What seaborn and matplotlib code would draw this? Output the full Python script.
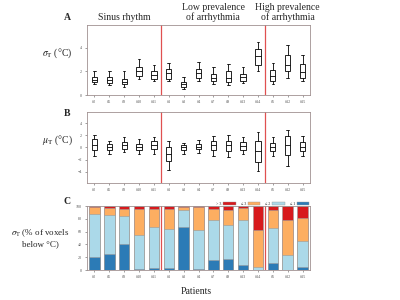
import numpy as np
import pandas as pd
import matplotlib
matplotlib.use("Agg")
import matplotlib.pyplot as plt
import seaborn as sns
from matplotlib.patches import Patch

# Patients, grouped by rhythm
patients = ["#2", "#5", "#8", "#10", "#11",
            "#1", "#3", "#4", "#7", "#9", "#13", "#14",
            "#6", "#12", "#15"]
group_titles = ["Sinus rhythm", "Low prevalence\nof arrhythmia", "High prevalence\nof arrhythmia"]

# Panel A: sigma_T box stats (whisker low, Q1, median, Q3, whisker high)
sig_low = [0.95, 0.85, 0.7, 1.35, 1.15, 1.15, 0.55, 1.2, 0.9, 0.85, 1.05, 2.0, 0.95, 1.4, 1.15]
sig_q1 = [1.1, 1.0, 0.9, 1.6, 1.35, 1.35, 0.7, 1.4, 1.15, 1.1, 1.2, 2.5, 1.15, 2.0, 1.4]
sig_med = [1.3, 1.25, 1.1, 2.0, 1.7, 1.85, 0.9, 1.85, 1.4, 1.4, 1.5, 3.3, 1.6, 2.5, 1.9]
sig_q3 = [1.5, 1.5, 1.35, 2.35, 2.0, 2.2, 1.1, 2.2, 1.8, 2.0, 1.8, 3.9, 2.1, 3.4, 2.6]
sig_high = [2.0, 2.05, 2.0, 3.05, 2.55, 2.7, 1.55, 2.8, 2.35, 2.65, 2.35, 4.5, 2.7, 4.2, 3.4]

# Panel B: mu_T box stats
mu_low = [-1.4, -1.05, -0.7, -1.1, -1.1, -3.7, -1.05, -1.0, -1.35, -1.65, -1.05, -3.85, -1.5, -3.0, -1.4]
mu_q1 = [-0.4, -0.4, -0.2, -0.45, -0.2, -2.2, -0.4, -0.3, -0.4, -0.65, -0.4, -2.35, -0.55, -1.2, -0.55]
mu_med = [0.45, 0.05, 0.35, 0.1, 0.35, -1.1, 0.0, 0.1, 0.35, 0.35, 0.2, -0.55, 0.15, 0.45, 0.15]
mu_q3 = [1.4, 0.55, 0.85, 0.6, 1.0, 0.05, 0.35, 0.55, 1.0, 1.1, 0.9, 1.1, 0.7, 1.85, 0.9]
mu_high = [2.0, 1.15, 1.7, 1.35, 1.7, 1.15, 0.7, 1.2, 1.85, 2.0, 1.7, 2.5, 1.7, 2.95, 1.85]

# Panel C: % of voxels per sigma_T class
pct_le1 = [20, 25, 41, 1, 3, 3, 68, 1, 16, 17, 8, 0, 11, 0, 4]
pct_le2 = [68, 61, 44, 53, 65, 61, 26, 61, 63, 53, 71, 5, 55, 23, 41]
pct_le3 = [11, 11, 10, 42, 27, 31, 4, 37, 17, 24, 18, 58, 28, 55, 36]
pct_gt3 = [1, 3, 5, 4, 5, 5, 2, 1, 4, 6, 3, 37, 6, 22, 19]
class_labels = ["> 3", "\u2264 3", "\u2264 2", "\u2264 1"]
class_colors = ["#d7191c", "#fdae61", "#abd9e9", "#2c7bb6"]


def long_form(*cols):
    rows = []
    for i, p in enumerate(patients):
        for c in cols:
            rows.append({"patient": p, "value": c[i]})
    return pd.DataFrame(rows)


sns.set_style("white")
plt.rcParams["font.family"] = ["Liberation Serif", "DejaVu Serif"]
plt.rcParams["mathtext.fontset"] = "stix"

fig = plt.figure(figsize=(4, 3), dpi=100)
axA = fig.add_axes([0.2175, 0.683, 0.5575, 0.234])
axB = fig.add_axes([0.2175, 0.39, 0.5575, 0.237])
axC = fig.add_axes([0.2175, 0.10, 0.5575, 0.213])

box_kws = dict(order=patients, color="white", linecolor="black", linewidth=0.6,
               width=0.35, whis=(0, 100), showfliers=False)

sns.boxplot(data=long_form(sig_low, sig_q1, sig_med, sig_q3, sig_high),
            x="patient", y="value", ax=axA, **box_kws)
sns.boxplot(data=long_form(mu_low, mu_q1, mu_med, mu_q3, mu_high),
            x="patient", y="value", ax=axB, **box_kws)

# stacked bars, tallest cumulative first
dfC = pd.DataFrame({"patient": patients, "le1": pct_le1, "le2": pct_le2,
                    "le3": pct_le3, "gt3": pct_gt3})
cum = [dfC[["le1", "le2", "le3", "gt3"]].sum(axis=1),
       dfC[["le1", "le2", "le3"]].sum(axis=1),
       dfC[["le1", "le2"]].sum(axis=1),
       dfC["le1"]]
for vals, col in zip(cum, class_colors):
    sns.barplot(x=dfC["patient"], y=vals, order=patients, color=col, width=0.7,
                edgecolor="#9a9a9a", linewidth=0.4, saturation=1, ax=axC)

axA.set_ylim(0, 5.9)
axA.set_yticks([0, 2, 4])
axB.set_ylim(-5.9, 5.9)
axB.set_yticks([-4, -2, 0, 2, 4])
axC.set_ylim(0, 100)
axC.set_yticks([0, 20, 40, 60, 80, 100])

for ax in (axA, axB, axC):
    ax.set_xlim(-0.5, len(patients) - 0.5)
    ax.set_xlabel("")
    ax.set_ylabel("")
    ax.tick_params(labelsize=3, colors="#555555", length=1.5, width=0.4, pad=2)
    ax.tick_params(axis="x", bottom=True)
    ax.tick_params(axis="y", left=True)
    for s in ax.spines.values():
        s.set_color("#a09090")
        s.set_linewidth(0.6)
    for xb in (4.5, 11.5):
        ax.axvline(xb, color="#e05050", linewidth=0.9)

# group titles
for xc, t in zip([2, 8, 13], group_titles):
    axA.text(xc, 1.04, t, transform=axA.get_xaxis_transform(), ha="center",
             va="bottom", fontsize=7, linespacing=1.0)

fig.text(0.143, 0.823, r"$\sigma_\mathrm{T}$ (°C)", ha="center", va="center", fontsize=7)
fig.text(0.143, 0.533, r"$\mu_\mathrm{T}$ (°C)", ha="center", va="center", fontsize=7)
fig.text(0.1, 0.208, "$\\sigma_\\mathrm{T}$ (% of voxels\nbelow °C)", ha="center",
         va="center", fontsize=6.5, linespacing=1.1)
fig.text(0.1675, 0.943, "A", fontweight="bold", fontsize=7, ha="center", va="center")
fig.text(0.1675, 0.623, "B", fontweight="bold", fontsize=7, ha="center", va="center")
fig.text(0.1675, 0.327, "C", fontweight="bold", fontsize=7, ha="center", va="center")
fig.text(0.49, 0.027, "Patients", ha="center", va="center", fontsize=7)

handles = [Patch(facecolor=c, edgecolor="#9a9a9a", linewidth=0.3) for c in class_colors]
axC.legend(handles, class_labels, loc="lower right", bbox_to_anchor=(1.0, 0.99),
           ncol=4, frameon=False, fontsize=3, markerfirst=False, handlelength=3,
           handleheight=0.9, columnspacing=1.2, handletextpad=0.4, borderaxespad=0,
           borderpad=0.2)

fig.savefig("out.png", dpi=100, facecolor="white")
